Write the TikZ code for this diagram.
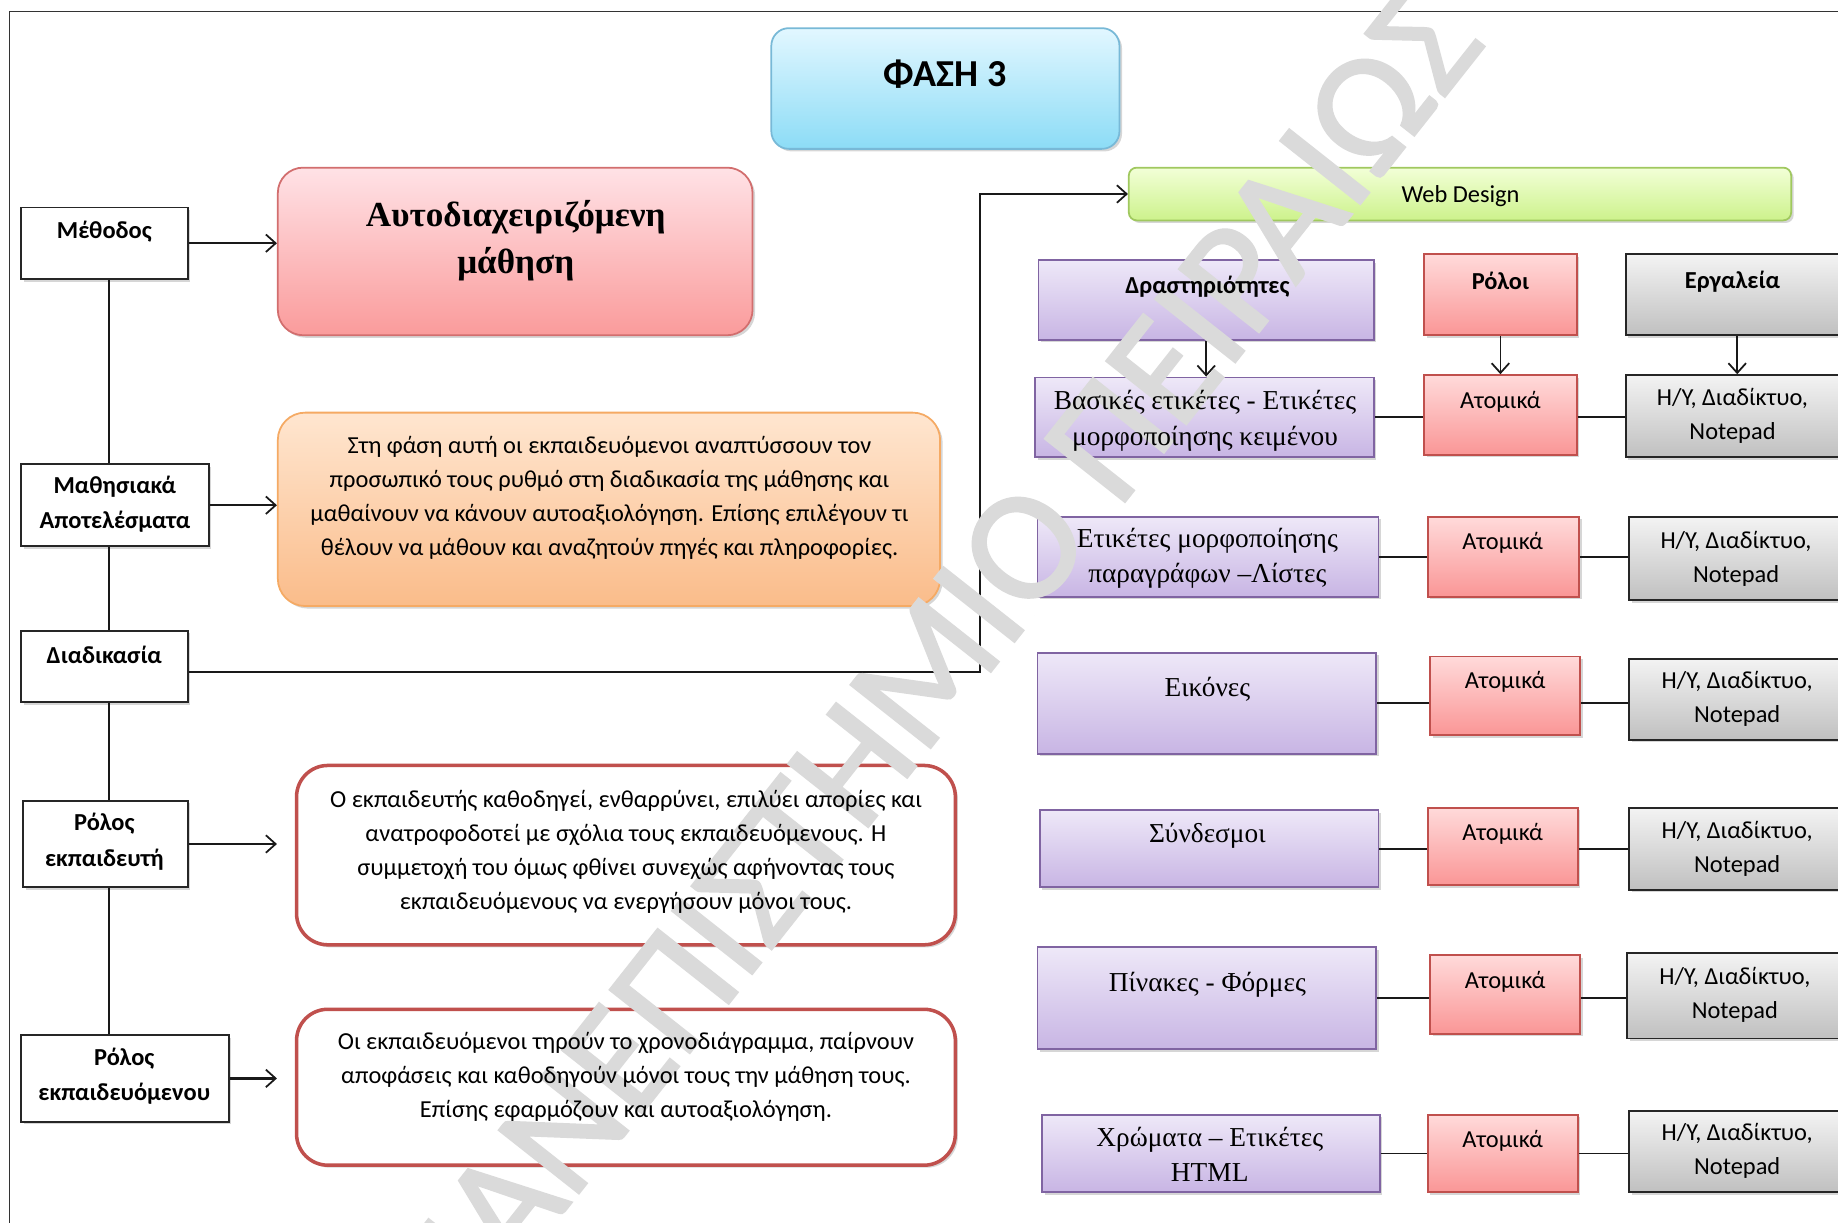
\documentclass[tikz,border=0pt]{standalone}
\usepackage{fontspec}
\setmainfont{Carlito}
\newfontfamily\tnr{Liberation Serif}
\usetikzlibrary{fit,shadows,arrows.meta}
\definecolor{purT}{RGB}{238,232,248}
\definecolor{purB}{RGB}{200,181,228}
\definecolor{purD}{RGB}{128,100,162}
\definecolor{pinT}{RGB}{255,218,218}
\definecolor{pinB}{RGB}{250,150,150}
\definecolor{pinD}{RGB}{192,80,77}
\definecolor{gryT}{RGB}{243,243,243}
\definecolor{gryB}{RGB}{192,192,192}
\definecolor{cyaT}{RGB}{226,247,255}
\definecolor{cyaB}{RGB}{140,220,246}
\definecolor{cyaD}{RGB}{120,185,215}
\definecolor{grnT}{RGB}{242,255,215}
\definecolor{grnB}{RGB}{205,242,140}
\definecolor{grnD}{RGB}{160,200,95}
\definecolor{orgT}{RGB}{255,230,208}
\definecolor{orgB}{RGB}{250,188,138}
\definecolor{orgD}{RGB}{245,170,100}
\definecolor{bpkT}{RGB}{255,226,230}
\definecolor{bpkB}{RGB}{250,155,155}
\definecolor{bpkD}{RGB}{210,110,110}
\definecolor{wmcol}{RGB}{218,218,218}
\newcommand\fbody{\fontsize{12.5}{17.4}\selectfont}
\newcommand\flab{\fontsize{12.5}{18}\selectfont\bfseries}
\newcommand\fhead{\fontsize{12.5}{17.4}\selectfont\bfseries}
\newcommand\freg{\fontsize{12.5}{17.4}\selectfont}
\newcommand\fser{\tnr\fontsize{14}{18}\selectfont}
\tikzset{
  x=0.6pt, y=-0.6pt,
  base/.style={inner sep=0pt, drop shadow={shadow xshift=1.3pt, shadow yshift=-1.3pt, opacity=0.35, fill=black!45}},
  wbox/.style={base, draw=black!85, line width=1pt, fill=white},
  pbox/.style={base, draw=purD, line width=0.9pt, top color=purT, bottom color=purB},
  rbox/.style={base, draw=pinD, line width=0.9pt, top color=pinT, bottom color=pinB},
  gbox/.style={base, draw=black!85, line width=0.9pt, top color=gryT, bottom color=gryB},
  cbox/.style={base, draw=cyaD, line width=0.9pt, top color=cyaT, bottom color=cyaB, rounded corners=9pt},
  webbox/.style={base, draw=grnD, line width=0.9pt, top color=grnT, bottom color=grnB, rounded corners=4pt},
  obox/.style={base, draw=orgD, line width=0.9pt, top color=orgT, bottom color=orgB, rounded corners=14pt},
  bpbox/.style={base, draw=bpkD, line width=0.9pt, top color=bpkT, bottom color=bpkB, rounded corners=13pt},
  redbox/.style={base, draw=pinD, line width=1.8pt, fill=white, rounded corners=16pt},
  txt/.style={inner sep=0pt, align=center},
  ln/.style={line width=0.9pt, draw=black!90},
  arr/.style={ln, -{Straight Barb[length=5pt,width=9pt,line width=0.9pt]}},
  thickarr/.style={arr, line width=1.2pt},
}
\newcommand\bx[6]{\node[#1, fit={(#3,#4)(#5,#6)}] (#2) {};}
\begin{document}
\begin{tikzpicture}
\useasboundingbox (0,0) rectangle (1568,1043);
\clip (0,0) rectangle (1568,1043);
\fill[white] (0,0) rectangle (1568,1043);
\draw[line width=0.6pt, black!80] (8,10) rectangle (1620,1100);

% ---------- boxes ----------
\bx{wbox}{meth}{18}{177}{160}{238}
\bx{wbox}{math}{18}{396}{178}{466}
\bx{wbox}{diad}{18}{538}{160}{599}
\bx{wbox}{rek}{20}{683}{160}{757}
\bx{wbox}{rekm}{18}{883}{195}{957}
\bx{cbox}{faz}{658}{24}{955}{127}
\bx{bpbox}{auto}{237}{143}{642}{286}
\bx{obox}{orb}{237}{352}{802}{517}
\bx{redbox}{rb1}{253}{653}{815}{806}
\bx{redbox}{rb2}{253}{861}{815}{994}
\bx{webbox}{web}{963}{143}{1528}{188}
\bx{pbox}{dr}{886}{222}{1172}{290}
\bx{rbox}{rol}{1215}{217}{1345}{286}
\bx{gbox}{erg}{1387}{217}{1620}{286}
\bx{pbox}{p1}{883}{322}{1172}{390}
\bx{rbox}{r1}{1215}{320}{1345}{388}
\bx{gbox}{g1}{1387}{320}{1620}{390}
\bx{pbox}{p2}{885}{441}{1176}{509}
\bx{rbox}{r2}{1218}{441}{1347}{509}
\bx{gbox}{g2}{1390}{441}{1620}{512}
\bx{pbox}{p3}{885}{557}{1174}{643}
\bx{rbox}{r3}{1220}{560}{1348}{627}
\bx{gbox}{g3}{1390}{562}{1620}{631}
\bx{pbox}{p4}{887}{691}{1176}{757}
\bx{rbox}{r4}{1218}{689}{1346}{755}
\bx{gbox}{g4}{1390}{689}{1620}{759}
\bx{pbox}{p5}{885}{808}{1174}{895}
\bx{rbox}{r5}{1220}{815}{1348}{882}
\bx{gbox}{g5}{1388}{813}{1620}{886}
\bx{pbox}{p6}{889}{951}{1177}{1017}
\bx{rbox}{r6}{1218}{951}{1346}{1017}
\bx{gbox}{g6}{1390}{948}{1620}{1017}

% ---------- connectors ----------
\coordinate (sp) at (93,0);
\coordinate (turn) at (836,0);
\coordinate (dl) at (0,573);
\coordinate (c3) at (1482,0);
\draw[ln] (meth.south -| sp) -- (math.north -| sp);
\draw[ln] (math.south -| sp) -- (diad.north -| sp);
\draw[ln] (diad.south -| sp) -- (rek.north -| sp);
\draw[ln] (rek.south -| sp) -- (rekm.north -| sp);
\draw[thickarr] (meth.east) -- (meth.east -| auto.west);
\draw[thickarr] (math.east) -- (math.east -| orb.west);
\draw[thickarr] (rek.east) -- (rek.east -| auto.west);
\draw[thickarr] (rekm.east) -- (rekm.east -| auto.west);
\draw[arr] (diad.east |- dl) -| (turn |- web.west) -- (web.west);
\draw[arr] (dr.south) -- (dr.south |- p1.north);
\draw[arr] (rol.south) -- (rol.south |- r1.north);
\draw[arr] (erg.south -| c3) -- (g1.north -| c3);
\foreach \i in {1,...,6}{
  \draw[ln] (p\i.east) -- (r\i.west |- p\i.east);
  \draw[ln] (r\i.east |- p\i.east) -- (g\i.west |- p\i.east);
}

% ---------- watermark ----------
\node[inner sep=0pt, anchor=base west, rotate=51.7, text=wmcol, font=\fontsize{81}{84}\selectfont] (wm) at (387,1153)
  {\special{pdf:literal 2 Tr 1.3 w}ΠΑΝΕΠΙΣΤΗΜΙΟ ΠΕΙΡΑΙΩΣ\special{pdf:literal 0 Tr}};

% ---------- texts ----------
\node[txt, font=\flab] (tmeth) at (89,198) {Μέθοδος};
\node[txt, font=\flab] (tmath) at (98,430) {Μαθησιακά\\Αποτελέσματα};
\node[txt, font=\flab] (tdiad) at (89,559) {Διαδικασία};
\node[txt, font=\flab] (trek) at (89,718) {Ρόλος\\εκπαιδευτή};
\node[txt, font=\flab] (trekm) at (106,918) {Ρόλος\\εκπαιδευόμενου};

\node[txt, font=\fontsize{19.5}{22}\selectfont\bfseries] (tfaz) at (806,63) {ΦΑΣΗ 3};
\node[txt, font=\tnr\fontsize{18}{24}\selectfont\bfseries] (tauto) at (440,205) {Αυτοδιαχειριζόμενη\\μάθηση};
\node[txt, font=\fbody] (torb) at (520,425) {Στη φάση αυτή οι εκπαιδευόμενοι αναπτύσσουν τον\\προσωπικό τους ρυθμό στη διαδικασία της μάθησης και\\μαθαίνουν να κάνουν αυτοαξιολόγηση. Επίσης επιλέγουν τι\\θέλουν να μάθουν και αναζητούν πηγές και πληροφορίες.};
\node[txt, font=\fbody] (trb1) at (534,727) {Ο εκπαιδευτής καθοδηγεί, ενθαρρύνει, επιλύει απορίες και\\ανατροφοδοτεί με σχόλια τους εκπαιδευόμενους. Η\\συμμετοχή του όμως φθίνει συνεχώς αφήνοντας τους\\εκπαιδευόμενους να ενεργήσουν μόνοι τους.};
\node[txt, font=\fbody] (trb2) at (534,919) {Οι εκπαιδευόμενοι τηρούν το χρονοδιάγραμμα, παίρνουν\\αποφάσεις και καθοδηγούν μόνοι τους την μάθηση τους.\\Επίσης εφαρμόζουν και αυτοαξιολόγηση.};

\node[txt, font=\freg] (tweb) at (1246,167) {Web Design};
\node[txt, font=\fhead] (tdr) at (1030,245) {Δραστηριότητες};
\node[txt, font=\fhead] (trol) at (1280,240) {Ρόλοι};
\node[txt, font=\fhead] (terg) at (1478,240) {Εργαλεία};

\node[txt, font=\fser] (tp1) at (1028,359) {Βασικές ετικέτες - Ετικέτες\\μορφοποίησης κειμένου};
\node[txt, font=\fser] (tp2) at (1030,476) {Ετικέτες μορφοποίησης\\παραγράφων –Λίστες};
\node[txt, font=\fser] (tp3) at (1030,588) {Εικόνες};
\node[txt, font=\fser] (tp4) at (1030,713) {Σύνδεσμοι};
\node[txt, font=\fser] (tp5) at (1030,840) {Πίνακες - Φόρμες};
\node[txt, font=\fser] (tp6) at (1032,985) {Χρώματα – Ετικέτες\\HTML};

\node[txt, font=\freg] (tr1) at (1280,343) {Ατομικά};
\node[txt, font=\freg] (tr2) at (1282,463) {Ατομικά};
\node[txt, font=\freg] (tr3) at (1284,582) {Ατομικά};
\node[txt, font=\freg] (tr4) at (1282,711) {Ατομικά};
\node[txt, font=\freg] (tr5) at (1284,838) {Ατομικά};
\node[txt, font=\freg] (tr6) at (1282,973) {Ατομικά};

\node[txt, font=\freg] (tg1) at (1478,355) {Η/Υ, Διαδίκτυο,\\Notepad};
\node[txt, font=\freg] (tg2) at (1481,477) {Η/Υ, Διαδίκτυο,\\Notepad};
\node[txt, font=\freg] (tg3) at (1482,596) {Η/Υ, Διαδίκτυο,\\Notepad};
\node[txt, font=\freg] (tg4) at (1482,724) {Η/Υ, Διαδίκτυο,\\Notepad};
\node[txt, font=\freg] (tg5) at (1480,849) {Η/Υ, Διαδίκτυο,\\Notepad};
\node[txt, font=\freg] (tg6) at (1482,982) {Η/Υ, Διαδίκτυο,\\Notepad};
\end{tikzpicture}
\end{document}
